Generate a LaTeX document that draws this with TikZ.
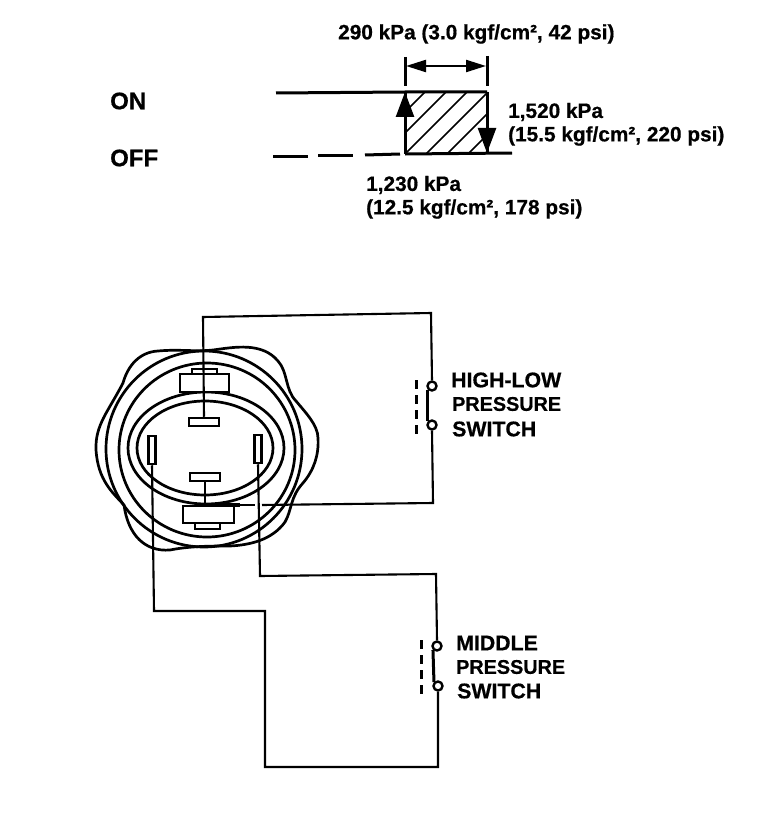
\documentclass[tikz,border=0pt]{standalone}
\usepackage{fontspec}
\setmainfont[BoldFeatures={FakeBold=0.6}]{Liberation Sans}
\usetikzlibrary{arrows.meta}
\tikzset{
  lbl/.style={anchor=west,inner sep=0pt,font=\bfseries\fontsize{20.8}{22}\selectfont},
  swlbl/.style={anchor=west,inner sep=0pt,font=\bfseries\fontsize{21.3}{23}\selectfont},
  wire/.style={line width=2.1pt},
  heavy/.style={line width=3pt},
  contact/.style={circle,draw,line width=2.4pt,fill=white,minimum size=9pt,inner sep=0pt},
  term/.style={rectangle,draw,line width=2.5pt,fill=white,inner sep=0pt},
  brk/.style={line width=3pt,dash pattern=on 9pt off 6pt},
  bigtip/.style={-{Stealth[length=25pt,width=18pt,inset=0pt]},line width=2.5pt}
}
\begin{document}
\begin{tikzpicture}[x=1pt,y=-1pt]
\useasboundingbox (0,0) rectangle (768,824);
% graph
\begin{scope}
\clip (405,92) rectangle (487,154);
\foreach \s in {425,446,467,488,509,530,551} \draw[line width=1.7pt] (\s-62,154) -- (\s,92);
\end{scope}
\draw[heavy] (276,93) -- (405,92) -- (487,92);
\draw[heavy] (405,92) -- (405,154);
\draw[heavy] (487,92) -- (487,154);
\draw[heavy] (405,154) -- (512,153);
\draw[heavy] (273,156) -- (308,156);
\draw[heavy] (318,155) -- (353,155);
\draw[heavy] (365,155) -- (400,154);
\draw[heavy] (405,57) -- (405,86);
\draw[heavy] (487,56) -- (487,86);
\draw[line width=2.2pt,{Stealth[length=20pt,width=12pt,inset=0pt]}-{Stealth[length=20pt,width=12pt,inset=0pt]}] (406,66) -- (486,66);
\draw[bigtip] (405,118) -- (405,92);
\draw[bigtip] (487,128) -- (487,153);
\node[lbl] (t1) at (338,34) {290 kPa (3.0 kgf/cm², 42 psi)};
\node[lbl] (t2) at (110,101) {\fontsize{24}{26}\selectfont ON};
\node[lbl] (t3) at (110,158) {\fontsize{24}{26}\selectfont OFF};
\node[lbl] (t4) at (508,112) {1,520 kPa};
\node[lbl] (t5) at (508,136) {(15.5 kgf/cm², 220 psi)};
\node[lbl] (t6) at (366,185) {1,230 kPa};
\node[lbl] (t7) at (366,209) {(12.5 kgf/cm², 178 psi)};
% body of the switch
\begin{scope}[line width=2.7pt]
\draw (123,383) .. controls (128,365) and (140,352) .. (158,351)
  .. controls (180,349) and (195,352) .. (213,350)
  .. controls (235,347) and (262,342) .. (278,361)
  .. controls (288,372) and (285,390) .. (296,401)
  .. controls (305,412) and (318,425) .. (318,438)
  .. controls (319,455) and (314,470) .. (303,483)
  .. controls (290,497) and (292,510) .. (285,522)
  .. controls (272,540) and (250,545) .. (230,546)
  .. controls (212,546) and (190,546) .. (170,550)
  .. controls (145,552) and (128,535) .. (124,505)
  .. controls (112,492) and (98,480) .. (96,450)
  .. controls (95,425) and (108,412) .. (123,383) -- cycle;
\draw (204,449) ellipse [x radius=98,y radius=98];
\draw (207,450) ellipse [x radius=88,y radius=87];
\draw (206,448) ellipse [x radius=78,y radius=56];
\draw (205,448) ellipse [x radius=68,y radius=47];
\draw[fill=white] (180,374) rectangle (229,392);
\draw (192,374) -- (192,369) -- (217,369) -- (217,374);
\draw[fill=white] (183,506) rectangle (234,523);
\draw (195,523) -- (195,529) -- (220,529) -- (220,523);
\end{scope}
\node[term,minimum width=30pt,minimum height=8pt] (ta) at (204,422) {};
\node[term,minimum width=30pt,minimum height=8pt] (tb) at (205,477) {};
\node[term,minimum width=7pt,minimum height=28pt] (tl) at (152,450) {};
\node[term,minimum width=7pt,minimum height=28pt] (tr) at (258,449) {};
% switches
\node[contact] (c1) at (432,386) {};
\node[contact] (c2) at (432,425) {};
\node[contact] (c3) at (437,646) {};
\node[contact] (c4) at (438,686) {};
\coordinate (b1) at (203,317);
\coordinate (b2) at (431,313);
\coordinate (b3) at (433,503);
\coordinate (b4) at (262,505);
\coordinate (b5) at (154,611);
\coordinate (b6) at (265,611);
\coordinate (b7) at (265,767);
\coordinate (b8) at (438,767);
\coordinate (b9) at (436,574);
\coordinate (b10) at (260,576);
\draw[wire] (ta.north) -- (b1) -- (b2) -- (c1.north);
\draw[wire] (c2.south) -- (b3) -- (b4);
\draw[wire] (tb.south) -- (205,505);
\draw[line width=3.4pt] (205,505) -- (240,505);
\draw[wire] (240,505) -- (255,505);
\draw[wire] (tl.south) -- (b5) -- (b6) -- (b7) -- (b8) -- (c4.south);
\draw[wire] (tr.south) -- (b10) -- (b9) -- (c3.north);
\draw[heavy] (c1.south west) -- (c2.north west);
\draw[heavy] (c3.south west) -- (c4.north west);
\draw[brk] (416,380) -- (416,434);
\draw[brk] (421,640) -- (421,698);
\node[swlbl] (s1) at (451,380) {HIGH-LOW};
\node[swlbl] (s2) at (452,404) {\fontsize{19.8}{22}\selectfont PRESSURE};
\node[swlbl] (s3) at (452,429) {SWITCH};
\node[swlbl] (s4) at (456,643) {MIDDLE};
\node[swlbl] (s5) at (456,667) {\fontsize{19.8}{22}\selectfont PRESSURE};
\node[swlbl] (s6) at (457,691) {SWITCH};
\end{tikzpicture}
\end{document}
